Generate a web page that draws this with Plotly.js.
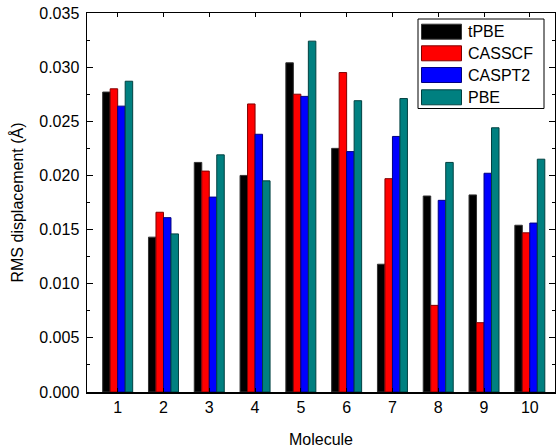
<!DOCTYPE html>
<html>
<head>
<meta charset="utf-8">
<script src="https://cdn.plot.ly/plotly-3.0.1.min.js"></script>
<style>html,body{margin:0;padding:0;background:#fff;}#chart{width:556px;height:448px;}</style>
</head>
<body>
<div id="chart"></div>
<script>
var molecules = [1, 2, 3, 4, 5, 6, 7, 8, 9, 10];
var tPBE   = [0.0277, 0.0143, 0.0212, 0.0200, 0.0304, 0.0225, 0.0118, 0.0181, 0.0182, 0.0154];
var CASSCF = [0.0280, 0.0166, 0.0204, 0.0266, 0.0275, 0.0295, 0.0197, 0.0080, 0.0064, 0.0147];
var CASPT2 = [0.0264, 0.0161, 0.0180, 0.0238, 0.0273, 0.0222, 0.0236, 0.0177, 0.0202, 0.0156];
var PBE    = [0.0287, 0.0146, 0.0219, 0.0195, 0.0324, 0.0269, 0.0271, 0.0212, 0.0244, 0.0215];
var seriesNames = ['tPBE', 'CASSCF', 'CASPT2', 'PBE'];
var fillColors = ['#000000', '#ff0000', '#0000ff', '#008080'];
var lineColors = ['#333333', '#800000', '#000080', '#004040'];
var values = [tPBE, CASSCF, CASPT2, PBE];

var traces = values.map(function (v, i) {
  return {
    type: 'bar', name: seriesNames[i], x: molecules, y: v, showlegend: false,
    marker: {color: fillColors[i], line: {color: lineColors[i], width: 1}}
  };
});

// plot area in pixels: x 87..555, y 13..392
var W = 556, H = 448, L = 87, R = 1, T = 13, B = 56;
var pw = W - L - R, ph = H - T - B;
function px(x) { return (x - L) / pw; }
function py(y) { return (H - B - y) / ph; }

var fontFam = '"Liberation Sans", Arial, sans-serif';
var shapes = [{
  type: 'rect', xref: 'paper', yref: 'paper',
  x0: px(418), x1: px(544), y0: py(108.5), y1: py(19),
  line: {color: '#000', width: 1}, fillcolor: '#fff', layer: 'above'
}];
var annotations = [];
var rowY = [31.7, 53.3, 75, 97.3];
seriesNames.forEach(function (n, i) {
  shapes.push({
    type: 'rect', xref: 'paper', yref: 'paper',
    x0: px(421.5), x1: px(461.5), y0: py(rowY[i] + 7.5), y1: py(rowY[i] - 7.5),
    line: {color: lineColors[i], width: 1}, fillcolor: fillColors[i], layer: 'above'
  });
  annotations.push({
    xref: 'paper', yref: 'paper', x: px(466), y: py(rowY[i]),
    xanchor: 'left', yanchor: 'middle', showarrow: false,
    text: n, font: {size: 16, family: fontFam, color: '#000'}
  });
});

var layout = {
  width: W, height: H,
  margin: {l: L, r: R, t: T, b: B},
  paper_bgcolor: '#fff', plot_bgcolor: '#fff',
  barmode: 'group', bargap: 0.345, bargroupgap: 0,
  font: {family: fontFam, size: 16, color: '#000'},
  xaxis: {
    range: [0.33, 10.55], tickvals: molecules, ticktext: molecules.map(String),
    showgrid: false, zeroline: false, showline: true, linecolor: '#000', linewidth: 1.5,
    mirror: 'ticks', ticks: 'inside', ticklen: 4, tickcolor: '#000',
    tickfont: {size: 16, family: fontFam},
    title: {text: 'Molecule', font: {size: 16, family: fontFam}, standoff: 22}
  },
  yaxis: {
    range: [0, 0.035], dtick: 0.005, tickformat: '.3f',
    showgrid: false, zeroline: false, showline: true, linecolor: '#000', linewidth: 1.5,
    mirror: 'ticks', ticks: 'inside', ticklen: 6, tickcolor: '#000',
    minor: {dtick: 0.0025, ticks: 'inside', ticklen: 3, tickcolor: '#000'},
    tickfont: {size: 16, family: fontFam}, ticklabelstandoff: 3,
    title: {text: 'RMS displacement (Å)', font: {size: 16, family: fontFam}, standoff: 11}
  },
  shapes: shapes,
  annotations: annotations,
  showlegend: false
};

Plotly.newPlot('chart', traces, layout, {displayModeBar: false, staticPlot: true});
</script>
</body>
</html>
